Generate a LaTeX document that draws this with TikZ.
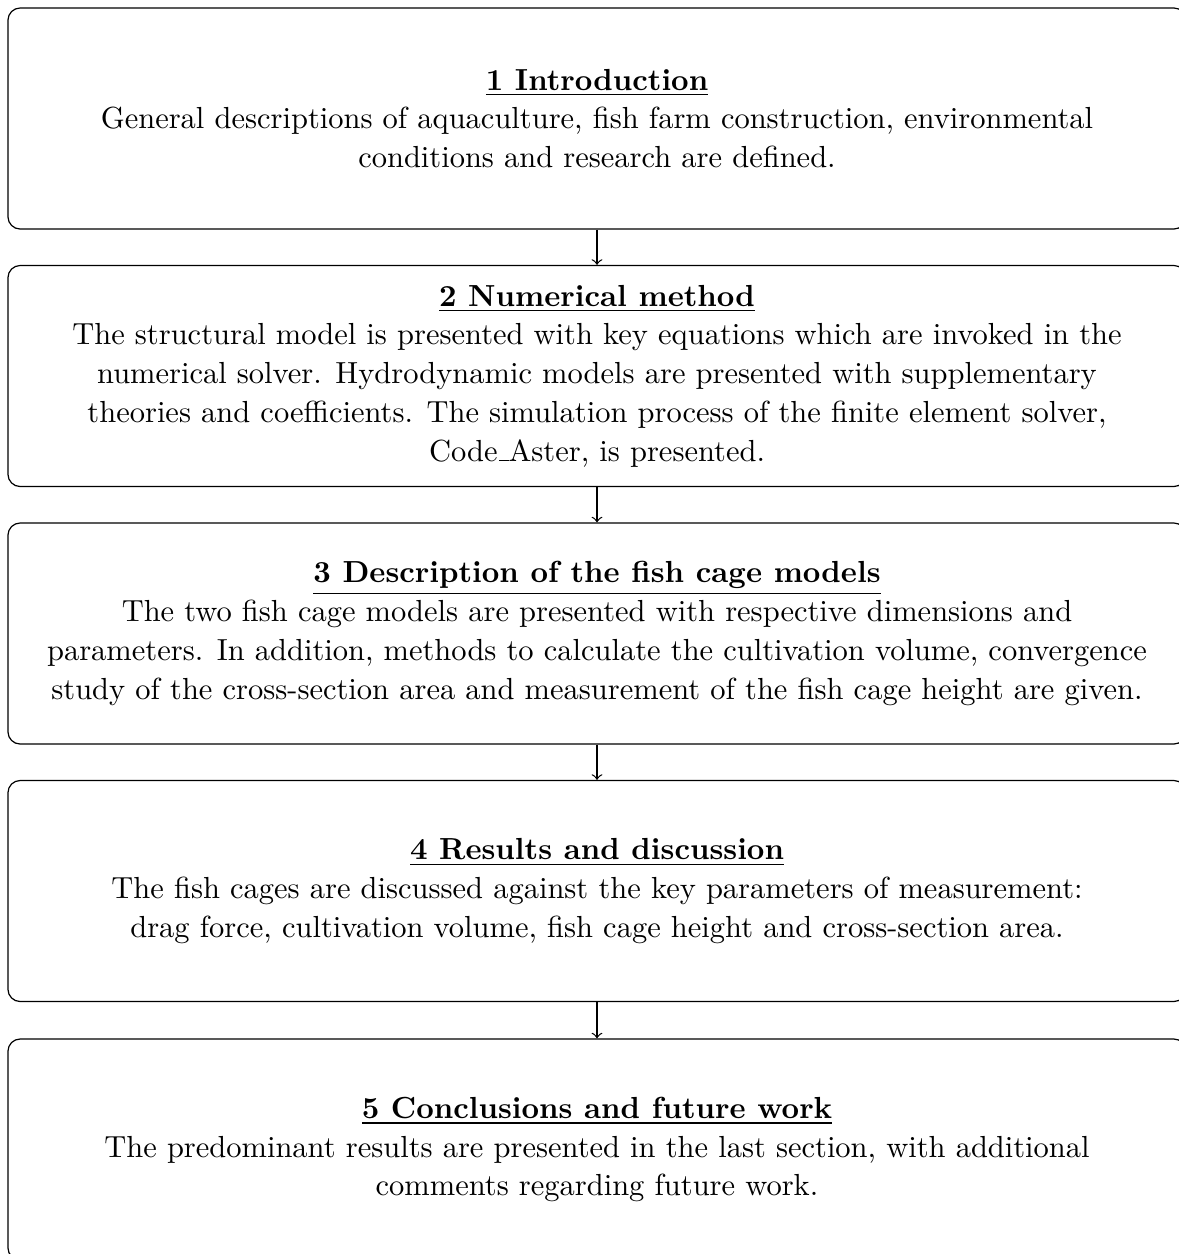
\documentclass[tikz,border=0pt]{standalone}
\usetikzlibrary{arrows}
\tikzset{
  secbox/.style={draw, rounded corners=4pt, minimum width=386.4pt, minimum height=72.5pt, align=center, inner sep=0pt, font=\fontsize{10}{12.7}\selectfont},
  link/.style={->, >=to}
}
\newcommand{\lowrule}{\leavevmode\kern.06em\vbox{\hrule width.3em}}
\begin{document}
\begin{tikzpicture}[x=0.328pt, y=-0.328pt]
\useasboundingbox (0,0) rectangle (1179,1254);
\node[secbox] (s1) at (597,118.5) {\underline{\textbf{1 Introduction}}\\
General descriptions of aquaculture, fish farm construction, environmental\\
conditions and research are defined.};
\node[secbox] (s2) at (597,376) {\underline{\textbf{2 Numerical method}}\\
The structural model is presented with key equations which are invoked in the\\
numerical solver. Hydrodynamic models are presented with supplementary\\
theories and coefficients. The simulation process of the finite element solver,\\
Code\lowrule Aster, is presented.};
\node[secbox] (s3) at (597,633.5) {\underline{\textbf{3 Description of the fish cage models}}\\
The two fish cage models are presented with respective dimensions and\\
parameters. In addition, methods to calculate the cultivation volume, convergence\\
study of the cross-section area and measurement of the fish cage height are given.};
\node[secbox] (s4) at (597,891) {\underline{\textbf{4 Results and discussion}}\\
The fish cages are discussed against the key parameters of measurement:\\
drag force, cultivation volume, fish cage height and cross-section area.};
\node[secbox] (s5) at (597,1149.5) {\underline{\textbf{5 Conclusions and future work}}\\
The predominant results are presented in the last section, with additional\\
comments regarding future work.};
\draw[link] (s1) -- (s2);
\draw[link] (s2) -- (s3);
\draw[link] (s3) -- (s4);
\draw[link] (s4) -- (s5);
\end{tikzpicture}
\end{document}
